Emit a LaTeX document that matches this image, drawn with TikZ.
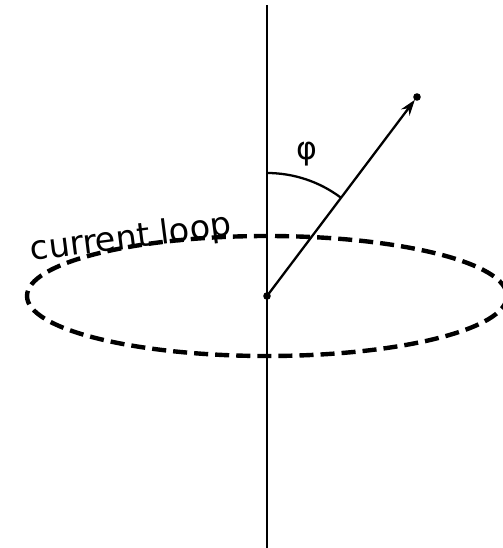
\documentclass[tikz,border=0pt]{standalone}
\usepackage{fontspec}
\setmainfont{DejaVu Sans}
\usetikzlibrary{arrows.meta}
\begin{document}
\begin{tikzpicture}[x=.02cm, y=-.02cm, line width=1.3pt, line join=round, >={Stealth[length=9pt,width=6pt]}]
	\useasboundingbox (0,0) rectangle (503,548);
	\path
	(267,296) coordinate (O)
	(267,5) coordinate (T)
	(267,548) coordinate (B)
	(417,97) coordinate (P);
	\draw (T)--(B);
	\begin{scope}
	\clip (0,0) rectangle (503,548);
	\draw[line width=2.5pt, dash pattern=on 8pt off 4pt] (O) ellipse [x radius=240, y radius=60];
	\end{scope}
	\draw[->, shorten >=2pt] (O)--(P);
	\foreach \p in {O,P}\fill (\p) circle (3.8);
	\draw (O)+(0,-123) arc[start angle=-90, end angle=-53.1, radius=123] coordinate (A);
	\node[font=\fontsize{18}{21}\selectfont] (phi) at (307,154) {φ};
	\node[font=\fontsize{19}{22}\selectfont, rotate=7.3] (loop) at (131,239) {current loop};
\end{tikzpicture}
\end{document}
